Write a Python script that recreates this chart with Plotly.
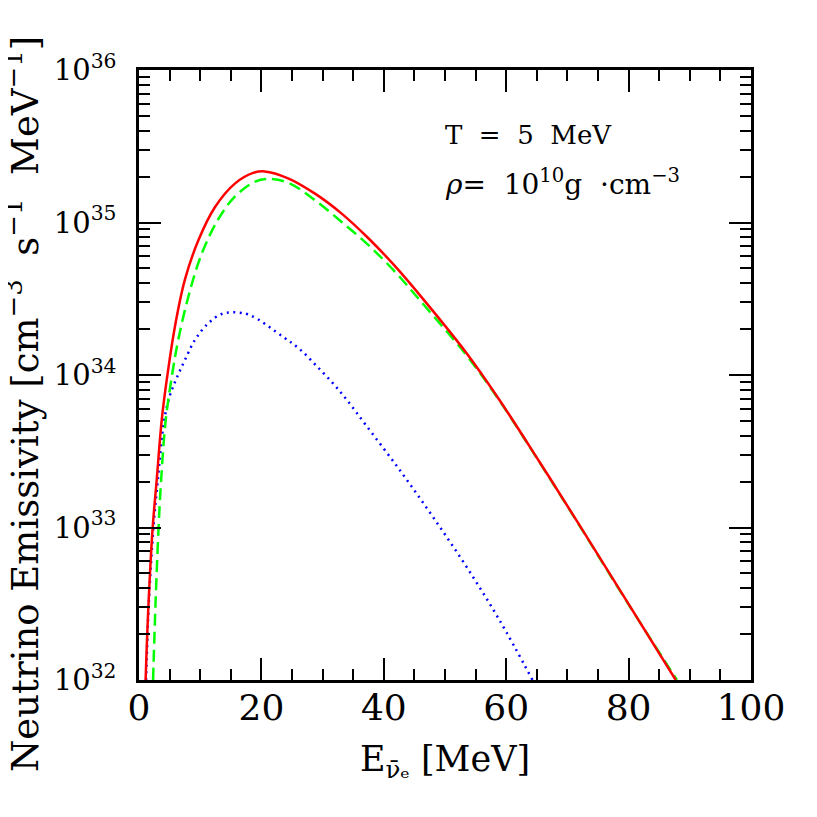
### Neutrino emissivity vs antineutrino energy (T = 5 MeV, rho = 1e10 g/cm^3).
import plotly.graph_objs as go

# --------------------------------------------------------------------------- #
### Data (energy in MeV, log10 of emissivity).

# Total (red solid)
e_total = [1.08, 1.5, 2.2, 2.87, 3.7, 4.4, 5.87, 7.5, 9.67, 12.4, 15.66, 18.65,
           20.55, 24.36, 28.7, 33.07, 37.4, 41.76, 46.4, 53.5, 58.9, 65.4,
           72.0, 79.5, 87.7]
log_total = [32.0, 32.45, 32.98, 33.301, 33.699, 33.93, 34.317, 34.625, 34.88,
             35.10, 35.255, 35.325, 35.335, 35.29, 35.191, 35.06, 34.90,
             34.717, 34.499, 34.144, 33.836, 33.433, 33.014, 32.53, 32.0]

# Green dashed component
e_green = [2.3, 2.7, 3.2, 3.6, 4.35, 5.4, 6.41, 8.04, 10.2, 12.93, 15.66, 18.9,
           20.8, 24.36, 28.7, 33.07, 37.4, 41.76, 46.0, 53.5, 58.9, 65.4, 72.0,
           79.5, 87.9]
log_green = [32.0, 32.5, 33.0, 33.301, 33.699, 34.0, 34.23, 34.51, 34.79,
             35.02, 35.17, 35.267, 35.286, 35.261, 35.148, 35.005, 34.855,
             34.68, 34.485, 34.13, 33.832, 33.43, 33.011, 32.527, 32.0]

# Blue dotted component
e_blue = [1.15, 1.6, 2.35, 3.05, 4.1, 5.0, 6.15, 7.5, 9.13, 11.3, 13.5, 15.4,
          18.1, 23.5, 26.3, 29.0, 31.7, 33.9, 37.1, 42.6, 48.0, 53.5, 58.9, 64.3]
log_blue = [32.0, 32.5, 33.0, 33.301, 33.699, 33.86, 33.98, 34.098, 34.229,
            34.339, 34.40, 34.411, 34.393, 34.251, 34.168, 34.06, 33.945, 33.84,
            33.67, 33.377, 33.071, 32.743, 32.393, 32.0]

# Tick labels
x_ticks = [0, 20, 40, 60, 80, 100]
y_decades = [32, 33, 34, 35, 36]

# --------------------------------------------------------------------------- #
### Build traces.

font_name = "DejaVu Serif"

def to_lin(vals):
    return [10 ** v for v in vals]

trace_total = go.Scatter(x=e_total, y=to_lin(log_total), mode="lines",
                         line=dict(color="#ff0000", width=2.5, shape="spline",
                                   smoothing=1.0))
trace_green = go.Scatter(x=e_green, y=to_lin(log_green), mode="lines",
                         line=dict(color="#00ff00", width=2.5, dash="12px,6px",
                                   shape="spline", smoothing=1.0))
trace_blue = go.Scatter(x=e_blue, y=to_lin(log_blue), mode="lines",
                        line=dict(color="#0000ff", width=2.5, dash="2px,4.5px",
                                  shape="spline", smoothing=1.0))

data = [trace_blue, trace_green, trace_total]

# Minor log ticks (2..9 in every decade).
y_minor = [k * 10.0 ** d for d in y_decades[:-1] for k in range(2, 10)]

fig = go.Figure(data=data)

# The page adds an 8px body margin, so the figure is a bit smaller than the window.
fig.update_layout(
    width=809, height=809,
    margin=dict(l=131, r=66, t=62, b=137),
    paper_bgcolor="white", plot_bgcolor="white",
    showlegend=False,
    font=dict(family=font_name, color="black"),
)

fig.update_xaxes(
    range=[0, 100], tickvals=x_ticks, ticktext=[str(v) for v in x_ticks],
    ticks="inside", ticklen=22, tickwidth=2, tickcolor="black",
    minor=dict(dtick=5, ticks="inside", ticklen=11, tickwidth=2,
               tickcolor="black", showgrid=False),
    showline=True, linewidth=2.5, linecolor="black", mirror="allticks",
    showgrid=False, zeroline=False,
    tickfont=dict(size=36, family=font_name), ticklabelstandoff=-6,
    title=dict(text="E<sub>ν̄ₑ</sub> [MeV]", font=dict(size=35, family=font_name),
               standoff=20),
)

fig.update_yaxes(
    type="log", range=[32, 36],
    tickvals=[10.0 ** d for d in y_decades],
    ticktext=["10<sup>%d</sup>" % d for d in y_decades],
    ticks="inside", ticklen=22, tickwidth=2, tickcolor="black",
    minor=dict(tickvals=y_minor, ticks="inside", ticklen=11, tickwidth=2,
               tickcolor="black", showgrid=False),
    showline=True, linewidth=2.5, linecolor="black", mirror="allticks",
    showgrid=False, zeroline=False,
    tickfont=dict(size=29, family=font_name), ticklabelstandoff=14,
)

# Y title as annotation (centred a bit below the plot centre, like the original).
fig.add_annotation(
    text="Neutrino Emissivity [cm<sup>−3</sup>&nbsp; s<sup>−1</sup>&nbsp; "
         "MeV<sup>−1</sup>]",
    xref="paper", yref="paper", x=-0.19, y=0.452, textangle=-90,
    showarrow=False, font=dict(size=37, family=font_name), xanchor="center",
    yanchor="middle",
)

fig.add_annotation(text="T&nbsp; =&nbsp; 5&nbsp; MeV", xref="paper", yref="paper",
                   x=0.497, y=0.893, xanchor="left", yanchor="middle",
                   showarrow=False, font=dict(size=26, family=font_name))
fig.add_annotation(text="<i>ρ</i>=&nbsp; 10<sup>10</sup>g&nbsp; ·cm<sup>−3</sup>",
                   xref="paper", yref="paper",
                   x=0.497, y=0.815, xanchor="left", yanchor="middle",
                   showarrow=False, font=dict(size=28, family=font_name))

fig.write_html("out.html")
